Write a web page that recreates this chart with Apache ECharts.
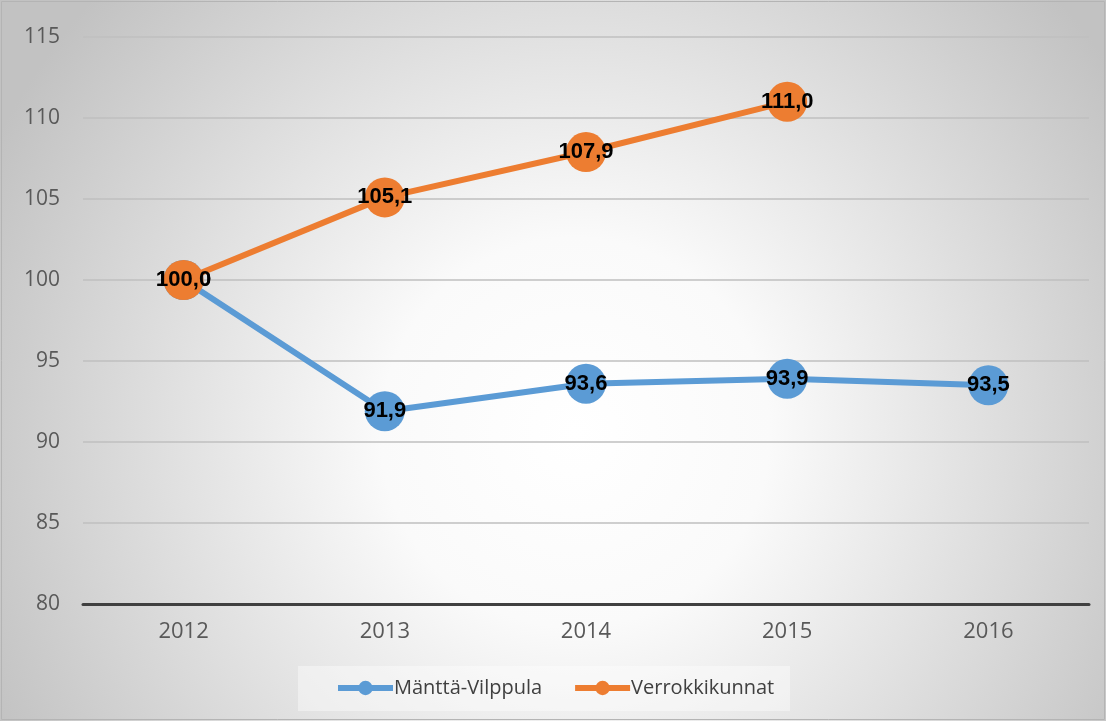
<!DOCTYPE html>
<html><head><meta charset="utf-8">
<script src="https://cdn.jsdelivr.net/npm/echarts@6/dist/echarts.min.js"></script>
<style>html,body{margin:0;padding:0;background:#fff}#c{width:1106px;height:721px}</style>
</head><body><div id="c"></div>
<script>
const categories = ['2012','2013','2014','2015','2016'];
const manttaVilppula = [100.0, 91.9, 93.6, 93.9, 93.5];
const verrokkikunnat = [100.0, 105.1, 107.9, 111.0, null];
const seriesNames = ['Mänttä-Vilppula','Verrokkikunnat'];
const yTicks = {min: 80, max: 115, interval: 5};

const chart = echarts.init(document.getElementById('c'));
const labelCfg = {
  show: true, position: 'inside', color: '#000', fontWeight: 'bold',
  fontFamily: 'Liberation Sans', fontSize: 22,
  formatter: p => p.value == null ? '' : p.value.toFixed(1).replace('.', ',')
};
chart.setOption({
  backgroundColor: {
    type: 'radial', x: 0.52, y: 0.6, r: 0.9,
    colorStops: [{offset: 0, color: '#ffffff'}, {offset: 0.3, color: '#fafafa'}, {offset: 1, color: '#c2c2c2'}]
  },
  animation: false,
  graphic: [{
    type: 'rect', shape: {x: 1.5, y: 1.5, width: 1103, height: 718},
    style: {fill: 'none', stroke: '#b4b4b4', lineWidth: 1}, z: 100
  }, {
    type: 'rect', shape: {x: 298, y: 666, width: 492, height: 45},
    style: {fill: 'rgba(255,255,255,0.4)', stroke: 'none'}, z: 0
  }],
  grid: {left: 83, right: 17, top: 37, bottom: 117},
  xAxis: {
    type: 'category', data: categories, boundaryGap: true,
    axisLine: {lineStyle: {color: '#404040', width: 3}},
    axisTick: {show: false},
    axisLabel: {color: '#595959', fontSize: 22, fontFamily: 'Open Sans', margin: 17}
  },
  yAxis: {
    type: 'value', min: yTicks.min, max: yTicks.max, interval: yTicks.interval,
    axisLine: {show: false}, axisTick: {show: false},
    axisLabel: {color: '#595959', fontSize: 21, fontFamily: 'Open Sans', margin: 23},
    splitLine: {lineStyle: {color: '#bfbfbf', width: 1.5}}
  },
  legend: {
    left: 330, top: 673, itemGap: 30, itemWidth: 55, itemHeight: 18,
    lineStyle: {width: 6},
    textStyle: {color: '#404040', fontSize: 20, fontFamily: 'Open Sans', padding: [0, 0, 0, -4]},
    data: seriesNames
  },
  series: [{
    name: seriesNames[0], type: 'line', data: manttaVilppula,
    color: '#5b9bd5', lineStyle: {width: 6, color: '#5b9bd5'},
    symbol: 'circle', symbolSize: 40, itemStyle: {color: '#5b9bd5'},
    label: labelCfg, z: 2
  }, {
    name: seriesNames[1], type: 'line', data: verrokkikunnat,
    color: '#ed7d31', lineStyle: {width: 6, color: '#ed7d31'},
    symbol: 'circle', symbolSize: 40, itemStyle: {color: '#ed7d31'},
    label: labelCfg, z: 3
  }]
});
</script></body></html>
